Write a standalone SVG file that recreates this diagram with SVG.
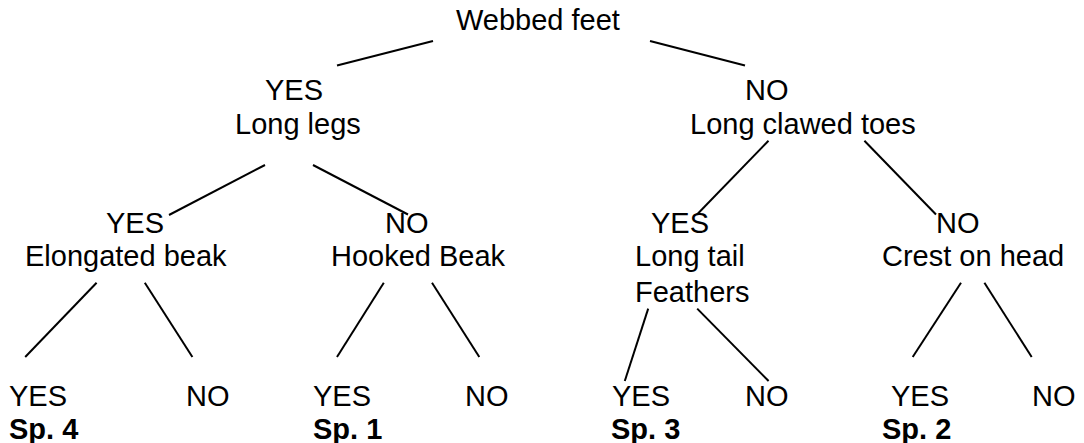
<svg xmlns="http://www.w3.org/2000/svg" width="1084" height="443" viewBox="0 0 1084 443">
<style>
text{font-family:"Liberation Sans",Arial,sans-serif;font-size:29px;fill:#000}
.b{font-weight:bold}
line{stroke:#000;stroke-width:2;stroke-linecap:butt}
</style>
<rect width="1084" height="443" fill="#fff"/>
<g id="connectors">
<line x1="433" y1="41" x2="337" y2="65.5"/>
<line x1="650" y1="41" x2="745" y2="65.5"/>
<line x1="265" y1="165" x2="169" y2="215"/>
<line x1="313" y1="165" x2="408" y2="214.5"/>
<line x1="768.5" y1="140.7" x2="697" y2="214.5"/>
<line x1="864.4" y1="140.7" x2="936" y2="214.5"/>
<line x1="96.6" y1="282.8" x2="25.2" y2="357"/>
<line x1="144.8" y1="282.8" x2="192.4" y2="357"/>
<line x1="383.8" y1="282.8" x2="337" y2="357"/>
<line x1="432" y1="282.8" x2="479.3" y2="357"/>
<line x1="648.2" y1="308.6" x2="624.8" y2="381"/>
<line x1="697.2" y1="308.6" x2="768.6" y2="381"/>
<line x1="961" y1="282.8" x2="912.7" y2="357"/>
<line x1="984.4" y1="282.8" x2="1031.7" y2="357"/>
</g>
<g id="root"><text x="456" y="30">Webbed feet</text></g>
<g id="long-legs"><text x="265" y="100">YES</text><text x="235" y="134">Long legs</text></g>
<g id="long-clawed-toes"><text x="745" y="100">NO</text><text x="690" y="134">Long clawed toes</text></g>
<g id="elongated-beak"><text x="106" y="233">YES</text><text x="25" y="266">Elongated beak</text></g>
<g id="hooked-beak"><text x="385" y="233">NO</text><text x="331" y="266">Hooked Beak</text></g>
<g id="long-tail"><text x="651" y="233">YES</text><text x="635" y="266">Long tail</text><text x="635" y="302">Feathers</text></g>
<g id="crest"><text x="936" y="233">NO</text><text x="882" y="266">Crest on head</text></g>
<g id="leaf-sp4"><text x="9" y="406">YES</text><text class="b" x="9" y="439">Sp. 4</text></g>
<g id="leaf-no1"><text x="186" y="406">NO</text></g>
<g id="leaf-sp1"><text x="313" y="406">YES</text><text class="b" x="313" y="439">Sp. 1</text></g>
<g id="leaf-no2"><text x="465" y="406">NO</text></g>
<g id="leaf-sp3"><text x="612" y="406">YES</text><text class="b" x="611" y="439">Sp. 3</text></g>
<g id="leaf-no3"><text x="745" y="406">NO</text></g>
<g id="leaf-sp2"><text x="891" y="406">YES</text><text class="b" x="882" y="439">Sp. 2</text></g>
<g id="leaf-no4"><text x="1032" y="406">NO</text></g>
</svg>
